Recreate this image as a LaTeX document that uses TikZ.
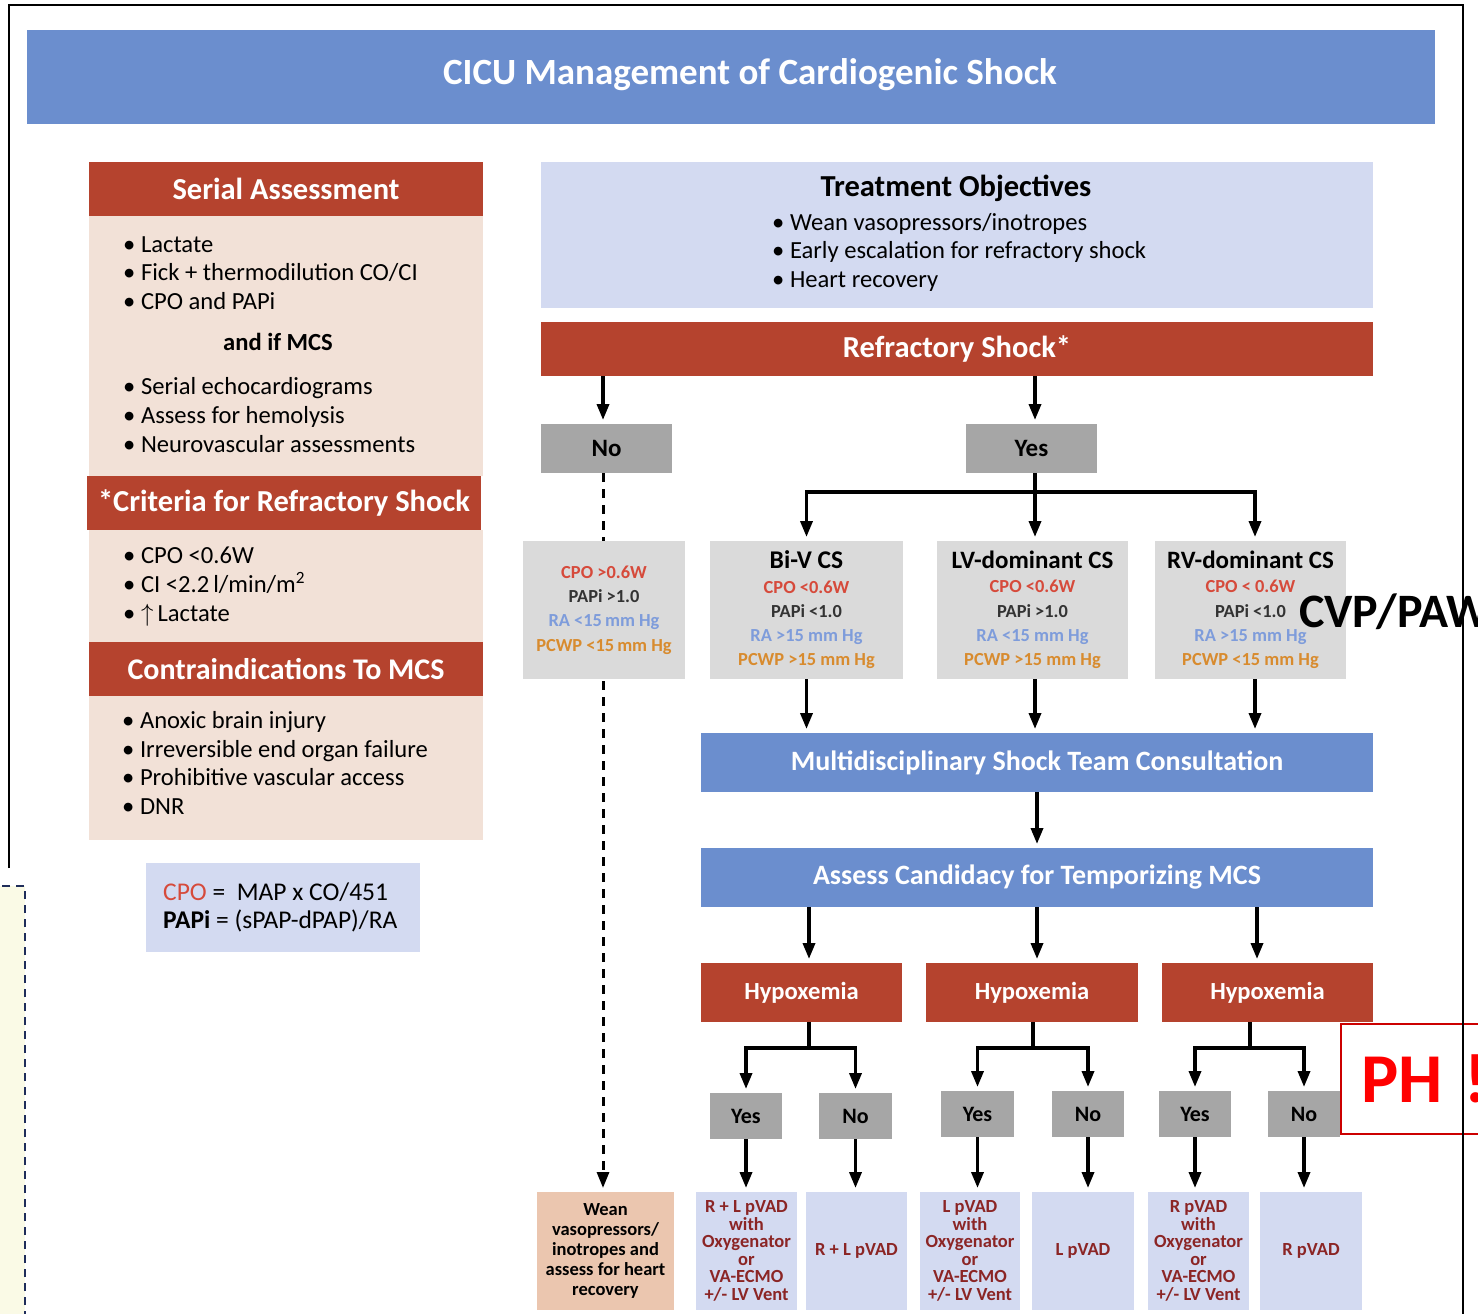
\documentclass[tikz,border=0pt]{standalone}
\usepackage{fontspec}
\setmainfont{Carlito}
\usetikzlibrary{arrows.meta,calc}
\definecolor{hblue}{HTML}{6B8ECE}
\definecolor{hred}{HTML}{B5432E}
\definecolor{peach}{HTML}{F2E1D7}
\definecolor{lblue}{HTML}{D3DAF1}
\definecolor{lgray}{HTML}{DADADA}
\definecolor{dgray}{HTML}{A6A6A6}
\definecolor{wean}{HTML}{EBC6AF}
\definecolor{dred}{HTML}{8B2525}
\definecolor{cpo}{HTML}{D64A3B}
\definecolor{ra}{HTML}{7E9CDB}
\definecolor{pcwp}{HTML}{D88B2E}
\definecolor{navy}{HTML}{1F2D5A}
\definecolor{noteyellow}{HTML}{FAFAE6}
\newcommand{\fs}[1]{\fontsize{#1}{1.2\dimexpr #1pt\relax}\selectfont}
\newcommand{\fsl}[2]{\fontsize{#1}{#2}\selectfont}
\tikzset{
  boxbase/.style={inner sep=0pt, outer sep=0pt, align=center},
  bluebar/.style={boxbase, fill=hblue, text=white, font=\bfseries\fs{28}},
  redbar/.style={boxbase, fill=hred, text=white, font=\bfseries\fs{30.5}},
  peachbox/.style={boxbase, fill=peach},
  critbox/.style={boxbase, fill=lgray, font=\bfseries\fsl{18.4}{24.3}},
  choicebox/.style={boxbase, fill=dgray, text=black, font=\bfseries\fs{25}},
  smallchoice/.style={boxbase, fill=dgray, text=black, font=\bfseries\fs{22}},
  resultbox/.style={boxbase, fill=lblue, text=dred, font=\bfseries\fsl{18.5}{17.6}},
  bodytext/.style={inner sep=0pt, anchor=west, align=left},
  arr/.style={line width=3.5pt, -{Triangle[width=12pt,length=16pt]}, shorten >=4pt},
  plain/.style={line width=3.5pt},
  dashline/.style={line width=3pt, dash pattern=on 9pt off 7pt, -{Triangle[width=12pt,length=16pt]}, shorten >=4pt},
  framel/.style={line width=2pt, black}
}
\begin{document}
\begin{tikzpicture}[x=1pt,y=-1pt]
\useasboundingbox (0,0) rectangle (1478,1314);
\clip (0,0) rectangle (1478,1314);
\fill[white] (0,0) rectangle (1478,1314);

% title
\node[bluebar, minimum width=1408pt, minimum height=94pt] (title) at (731,77) {};
\node[inner sep=0pt, text=white, font=\bfseries\fs{37}] (titleT) at (750,75) {CICU Management of Cardiogenic Shock};

% left column
\node[redbar, minimum width=394pt, minimum height=54pt] (serialH) at (286,189) {Serial Assessment};
\node[peachbox, minimum width=394pt, minimum height=260pt] (serialB) at (286,346) {};
\node[bodytext, font=\fsl{24.6}{28.7}] (serialT1) at (123,273) {• Lactate\\• Fick + thermodilution CO/CI\\• CPO and PAPi};
\node[inner sep=0pt, font=\bfseries\fs{24.6}] (serialMCS) at (278,342) {and if MCS};
\node[bodytext, font=\fsl{24.6}{29}] (serialT2) at (123,415) {• Serial echocardiograms\\• Assess for hemolysis\\• Neurovascular assessments};

\node[redbar, minimum width=394pt, minimum height=54pt] (critH) at (284,503) {*Criteria for Refractory Shock};
\node[peachbox, minimum width=394pt, minimum height=112pt] (critB) at (286,586) {};
\node[bodytext, font=\fsl{24.6}{29}] (critT) at (123,587) {• CPO <0.6W\\• CI <2.2\,l/min/m\textsuperscript{2}\\• $\uparrow$\,Lactate};

\node[redbar, minimum width=394pt, minimum height=54pt, font=\bfseries\fs{30}] (contraH) at (286,669) {Contraindications To MCS};
\node[peachbox, minimum width=394pt, minimum height=144pt] (contraB) at (286,768) {};
\node[bodytext, font=\fsl{24.6}{28.5}] (contraT) at (122,763) {• Anoxic brain injury\\• Irreversible end organ failure\\• Prohibitive vascular access\\• DNR};

\node[boxbase, fill=lblue, minimum width=274pt, minimum height=89pt] (formula) at (283,907.5) {};
\node[bodytext, font=\fsl{25.5}{28}] (formulaT) at (163,907) {\textcolor{cpo}{CPO} = \ MAP x CO/451\\\textbf{PAPi} = (sPAP-dPAP)/RA};

% right column
\node[boxbase, fill=lblue, minimum width=832pt, minimum height=146pt] (treat) at (957,235) {};
\node[inner sep=0pt, font=\bfseries\fs{30.5}] (treatT) at (956,188) {Treatment Objectives};
\node[bodytext, font=\fsl{24.6}{28.5}] (treatL) at (772,252) {• Wean vasopressors/inotropes\\• Early escalation for refractory shock\\• Heart recovery};

\node[redbar, minimum width=832pt, minimum height=54pt] (refr) at (957,349) {Refractory Shock*};

\node[choicebox, minimum width=131pt, minimum height=49pt] (no) at (606.5,448.5) {No};
\node[choicebox, minimum width=131pt, minimum height=49pt] (yes) at (1031.5,448.5) {Yes};

\node[boxbase, fill=wean, text=black, minimum width=137pt, minimum height=118pt, font=\bfseries\fsl{18.5}{20}] (weanB) at (605.5,1251) {Wean\\vasopressors/\\inotropes and\\assess for heart\\recovery};

% dashed "No" path (behind the first criteria box)
\draw[dashline] (no.south -| 603,0) -- (weanB.north -| 603,0);

\node[critbox, minimum width=162pt, minimum height=138pt] (box0) at (604,610) {\textcolor{cpo}{CPO >0.6W}\\\textcolor{black!80}{PAPi >1.0}\\\textcolor{ra}{RA <15\,mm Hg}\\\textcolor{pcwp}{PCWP <15\,mm Hg}};
\node[critbox, minimum width=193pt, minimum height=138pt] (box1) at (806.5,610) {{\fs{25.5}Bi-V CS}\\\textcolor{cpo}{CPO <0.6W}\\\textcolor{black!80}{PAPi <1.0}\\\textcolor{ra}{RA >15 mm Hg}\\\textcolor{pcwp}{PCWP >15 mm Hg}};
\node[critbox, minimum width=191pt, minimum height=138pt] (box2) at (1032.5,610) {{\fs{25}LV-dominant CS}\\\textcolor{cpo}{CPO <0.6W}\\\textcolor{black!80}{PAPi >1.0}\\\textcolor{ra}{RA <15 mm Hg}\\\textcolor{pcwp}{PCWP >15 mm Hg}};
\node[critbox, minimum width=191pt, minimum height=138pt] (box3) at (1250.5,610) {{\fs{25}RV-dominant CS}\\\textcolor{cpo}{CPO < 0.6W}\\\textcolor{black!80}{PAPi <1.0}\\\textcolor{ra}{RA >15 mm Hg}\\\textcolor{pcwp}{PCWP <15 mm Hg}};

\node[bluebar, minimum width=672pt, minimum height=59pt] (multi) at (1037,762.5) {Multidisciplinary Shock Team Consultation};
\node[bluebar, minimum width=672pt, minimum height=59pt] (assess) at (1037,877.5) {Assess Candidacy for Temporizing MCS};

\node[redbar, minimum width=201pt, minimum height=59pt, font=\bfseries\fs{24.6}] (hypA) at (801.5,992.5) {Hypoxemia};
\node[redbar, minimum width=212pt, minimum height=59pt, font=\bfseries\fs{24.6}] (hypB) at (1032,992.5) {Hypoxemia};
\node[redbar, minimum width=211pt, minimum height=59pt, font=\bfseries\fs{24.6}] (hypC) at (1267.5,992.5) {Hypoxemia};

\node[smallchoice, minimum width=72pt, minimum height=46pt] (yesA) at (746,1116) {Yes};
\node[smallchoice, minimum width=73pt, minimum height=46pt] (noA) at (855.5,1116) {No};
\node[smallchoice, minimum width=73pt, minimum height=46pt] (yesB) at (977.5,1114) {Yes};
\node[smallchoice, minimum width=72pt, minimum height=46pt] (noB) at (1088,1114) {No};
\node[smallchoice, minimum width=72pt, minimum height=46pt] (yesC) at (1195,1114) {Yes};
\node[smallchoice, minimum width=72pt, minimum height=46pt] (noC) at (1304,1114) {No};

\node[resultbox, minimum width=101pt, minimum height=118pt] (r1) at (746.5,1251) {R + L pVAD\\with\\Oxygenator\\or\\VA-ECMO\\+/- LV Vent};
\node[resultbox, minimum width=101pt, minimum height=118pt] (r2) at (856.5,1251) {R + L pVAD};
\node[resultbox, minimum width=100pt, minimum height=118pt] (r3) at (970,1251) {L pVAD\\with\\Oxygenator\\or\\VA-ECMO\\+/- LV Vent};
\node[resultbox, minimum width=102pt, minimum height=118pt] (r4) at (1083,1251) {L pVAD};
\node[resultbox, minimum width=101pt, minimum height=118pt] (r5) at (1198.5,1251) {R pVAD\\with\\Oxygenator\\or\\VA-ECMO\\+/- LV Vent};
\node[resultbox, minimum width=102pt, minimum height=118pt] (r6) at (1311,1251) {R pVAD};

% connectors
\draw[arr] (refr.south -| 603,0) -- (no.north -| 603,0);
\draw[arr] (refr.south -| 1035,0) -- (yes.north -| 1035,0);
\coordinate (jy) at (1035,492);
\draw[plain] (yes.south -| jy) -- (jy);
\draw[arr] ([xshift=-1.75pt]jy) -| (box1.north);
\draw[arr] ([xshift=1.75pt]jy) -| (box3.north -| 1255,0);
\draw[arr] (jy) -- (box2.north -| jy);
\draw[arr] (box1.south) -- (box1.south |- multi.north);
\draw[arr] (box2.south -| jy) -- (multi.north -| jy);
\draw[arr] (box3.south -| 1255,0) -- (multi.north -| 1255,0);
\draw[arr] (multi.south) -- (assess.north);
\draw[arr] (assess.south -| 809,0) -- (hypA.north -| 809,0);
\draw[arr] (assess.south) -- (hypB.north -| assess.south);
\draw[arr] (assess.south -| 1257,0) -- (hypC.north -| 1257,0);
\coordinate (ja) at (809,1048);
\coordinate (jb) at (1033,1048);
\coordinate (jc) at (1250,1048);
\draw[plain] (hypA.south -| ja) -- (ja);
\draw[plain] (hypB.south -| jb) -- (jb);
\draw[plain] (hypC.south -| jc) -- (jc);
\draw[arr] ([xshift=1.75pt]ja) -| (yesA.north);
\draw[arr] ([xshift=-1.75pt]ja) -| (noA.north);
\draw[arr] ([xshift=1.75pt]jb) -| (yesB.north);
\draw[arr] ([xshift=-1.75pt]jb) -| (noB.north);
\draw[arr] ([xshift=1.75pt]jc) -| (yesC.north);
\draw[arr] ([xshift=-1.75pt]jc) -| (noC.north);
\draw[arr] (yesA.south) -- (r1.north -| yesA.south);
\draw[arr] (noA.south) -- (r2.north -| noA.south);
\draw[arr] (yesB.south) -- (r3.north -| yesB.south);
\draw[arr] (noB.south) -- (r4.north -| noB.south);
\draw[arr] (yesC.south) -- (r5.north -| yesC.south);
\draw[arr] (noC.south) -- (r6.north -| noC.south);

% overlay annotations
\node[anchor=base west, inner sep=0pt, font=\bfseries\fs{48}] (cvp) at (1299,627) {CVP/PAW};
\node[draw=red!80!black, line width=2pt, fill=white, minimum width=160pt, minimum height=110pt, anchor=north west, inner sep=0pt] (phbox) at (1340,1023) {};
\node[anchor=base west, inner sep=0pt, text=red, font=\bfseries\fs{70}] (ph) at (1361,1102) {PH\hspace{22pt}!};

% dashed note box at the left
\fill[white] (0,866) rectangle (44,1314);
\draw[navy, line width=2pt, dash pattern=on 8pt off 6pt, fill=noteyellow] (-10,886) rectangle (25,1330);

% outer frame
\draw[framel] (9,868) -- (9,5) -- (1463,5) -- (1463,1314);
\end{tikzpicture}
\end{document}
